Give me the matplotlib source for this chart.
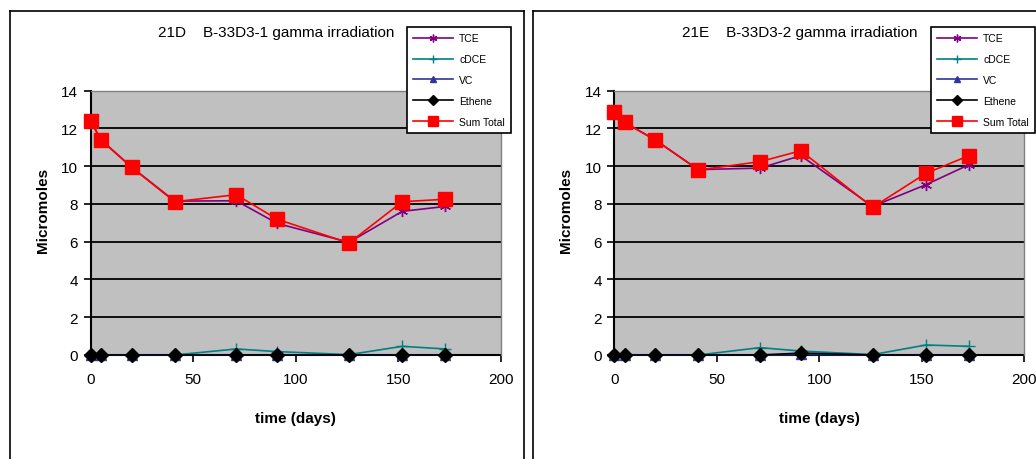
import matplotlib
matplotlib.use("Agg")
import matplotlib.pyplot as plt
from matplotlib.lines import Line2D

plt.rcParams['font.family'] = ['Liberation Sans', 'DejaVu Sans']

days = [0, 5, 20, 41, 71, 91, 126, 152, 173]

# Panel 21D
d_tce = [12.4, 11.4, 9.95, 8.15, 8.17, 6.97, 5.97, 7.61, 7.87]
d_cdce = [0, 0, 0, 0, 0.32, 0.18, 0.02, 0.46, 0.32]
d_vc = [0, 0, 0, 0, 0, 0, 0, 0, 0]
d_eth = [0, 0, 0, 0, 0, 0, 0, 0, 0]
d_sum = [12.38, 11.39, 9.94, 8.12, 8.49, 7.19, 5.93, 8.12, 8.25]

# Panel 21E
e_tce = [12.85, 12.32, 11.39, 9.82, 9.90, 10.56, 7.87, 9.02, 10.08]
e_cdce = [0, 0, 0, 0, 0.39, 0.21, 0.02, 0.53, 0.46]
e_vc = [0, 0, 0, 0, 0, 0.03, 0, 0, 0]
e_eth = [0, 0, 0, 0, 0, 0.1, 0, 0, 0]
e_sum = [12.85, 12.32, 11.39, 9.80, 10.24, 10.82, 7.82, 9.62, 10.56]

titles = ["21D    B-33D3-1 gamma irradiation", "21E    B-33D3-2 gamma irradiation"]
series_names = ["TCE", "cDCE", "VC", "Ethene", "Sum Total"]
yticks = [0, 2, 4, 6, 8, 10, 12, 14]
xticks = [0, 50, 100, 150, 200]

W, H = 1036, 460
fig = plt.figure(figsize=(W / 100, H / 100), dpi=100)


def fx(px):
    return px / W


def fy(py):
    return 1 - py / H


# panel frames
for (x0, x1) in [(10, 524), (533, 1040)]:
    for xs, ys in [([x0, x0], [12, 470]), ([x1, x1], [12, 470]), ([x0, x1], [12, 12])]:
        fig.add_artist(Line2D([fx(v) for v in xs], [fy(v) for v in ys],
                              color='black', lw=1.2))

styles = [
    dict(color='#800080', marker=(6, 2, 0), ms=8, mew=1.0, zorder=4),
    dict(color='#008080', marker='+', ms=9, mew=1.0, zorder=3),
    dict(color='#333399', marker='^', ms=7, mew=1.0, zorder=3),
    dict(color='black', marker='D', ms=7, mew=1.0, zorder=5),
    dict(color='#FF0000', marker='s', ms=9.5, mew=1.0, zorder=6),
]

panels = [
    (90.7, [d_tce, d_cdce, d_vc, d_eth, d_sum], 407),
    (614.3, [e_tce, e_cdce, e_vc, e_eth, e_sum], 931),
]

for i, (left_px, data, leg_x) in enumerate(panels):
    ax = fig.add_axes([fx(left_px), fy(356), 410 / W, (356 - 91.7) / H])
    ax.set_facecolor('#C0C0C0')
    handles = []
    for name, vals, st in zip(series_names, data, styles):
        h, = ax.plot(days, vals, color=st['color'], marker=st['marker'],
                     markersize=st['ms'], markeredgewidth=st['mew'],
                     markerfacecolor=st['color'], lw=1.2, zorder=st['zorder'],
                     clip_on=False, label=name)
        handles.append(h)
    ax.set_xlim(0, 200)
    ax.set_ylim(0, 14)
    ax.set_xticks(xticks)
    ax.set_yticks(yticks)
    ax.tick_params(axis='both', direction='out', length=5, width=1.2,
                   labelsize=11, pad=4, colors='black')
    ax.tick_params(axis='x', pad=7)
    ax.yaxis.grid(True, color='black', lw=1.3)
    ax.xaxis.grid(False)
    ax.set_axisbelow(True)
    for s in ['left', 'bottom']:
        ax.spines[s].set_color('black')
        ax.spines[s].set_linewidth(1.5)
        ax.spines[s].set_zorder(2)
    for s in ['top', 'right']:
        ax.spines[s].set_color('#808080')
        ax.spines[s].set_linewidth(1.0)
    ax.set_ylabel("Micromoles", fontsize=11, fontweight='bold')
    ax.yaxis.set_label_coords(-0.100, 0.55)
    ax.set_xlabel("time (days)", fontsize=11, fontweight='bold', va='center')
    ax.xaxis.set_label_coords(0.5, -0.238)
    ax.text(0.452, 1.222, titles[i], transform=ax.transAxes, ha='center',
            va='center', fontsize=11)
    leg = fig.legend(handles=handles, loc='upper left',
                     bbox_to_anchor=(fx(leg_x), fy(28)), fontsize=7.5,
                     frameon=True, fancybox=False, framealpha=1,
                     edgecolor='black', handlelength=3.8, labelspacing=1.05,
                     borderpad=0.6, handletextpad=0.6, borderaxespad=0)
    leg.get_frame().set_linewidth(1.2)
    for lh in leg.legend_handles:
        lh.set_markersize(lh.get_markersize() * 0.7)

fig.savefig("out.png", dpi=100)
